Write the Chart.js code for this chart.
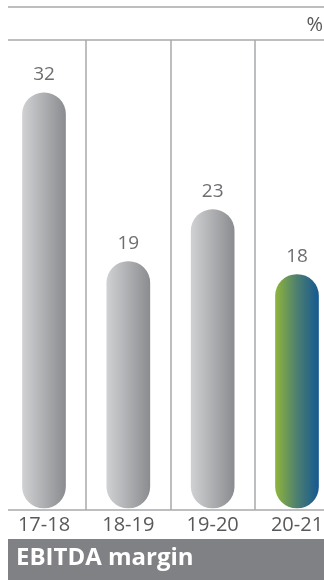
<!DOCTYPE html>
<html>
<head>
<meta charset="utf-8">
<script src="https://cdn.jsdelivr.net/npm/chart.js@4/dist/chart.umd.min.js"></script>
<style>
  html, body { margin: 0; padding: 0; background: #fff; }
  #wrap { width: 324px; height: 580px; }
</style>
</head>
<body>
<div id="wrap"><canvas id="margin"></canvas></div>
<script>
// EBITDA margin per financial year, in %
const years = ['17-18', '18-19', '19-20', '20-21'];
const margins = [32, 19, 23, 18];
const unitLabel = '%';
const titleText = 'EBITDA margin';

const lineColor = '#a7a9ac';
const textColor = '#58595b';

// horizontal gradient across one bar; last year gets the green-blue one
function barFill(ctx) {
  const chart = ctx.chart;
  if (!chart.chartArea) return '#b0b1b3';
  const x = chart.scales.x.getPixelForValue(ctx.dataIndex);
  const g = chart.ctx.createLinearGradient(x - 21, 0, x + 21, 0);
  if (ctx.dataIndex === years.length - 1) {
    g.addColorStop(0, '#8db33d');
    g.addColorStop(0.5, '#4d7f70');
    g.addColorStop(1, '#165a90');
  } else {
    g.addColorStop(0, '#cfd0d2');
    g.addColorStop(1, '#8c8d90');
  }
  return g;
}

// frame lines, column dividers, value labels and the title strip
const decor = {
  id: 'decor',
  beforeDatasetsDraw(chart) {
    const c = chart.ctx, a = chart.chartArea, xs = chart.scales.x;
    const base = a.bottom + 2;
    c.save();
    c.strokeStyle = lineColor;
    c.lineWidth = 1.5;
    c.beginPath();
    [7, 40, base].forEach(y => { c.moveTo(8, y); c.lineTo(324, y); });
    for (let i = 0; i < years.length - 1; i++) {
      const x = Math.round((xs.getPixelForValue(i) + xs.getPixelForValue(i + 1)) / 2);
      c.moveTo(x, 40); c.lineTo(x, base);
    }
    c.stroke();
    c.fillStyle = textColor;
    c.font = '20px "Open Sans"';
    c.textAlign = 'right';
    c.textBaseline = 'alphabetic';
    c.fillText(unitLabel, 323, 31);
    c.restore();
  },
  afterDatasetsDraw(chart) {
    const c = chart.ctx;
    const meta = chart.getDatasetMeta(0);
    c.save();
    c.fillStyle = '#6d6e71';
    c.font = '19px "Open Sans"';
    c.textAlign = 'center';
    c.textBaseline = 'alphabetic';
    meta.data.forEach((bar, i) => {
      c.fillText(String(margins[i]), bar.x, bar.y - 13);
    });
    // title strip
    c.fillStyle = '#808184';
    c.fillRect(8, 539, 316, 41);
    c.fillStyle = '#ffffff';
    c.font = 'bold 24px "Open Sans"';
    c.textAlign = 'left';
    c.fillText(titleText, 16, 565);
    c.restore();
  }
};

new Chart(document.getElementById('margin'), {
  type: 'bar',
  data: {
    labels: years,
    datasets: [{
      data: margins,
      backgroundColor: barFill,
      barThickness: 43,
      borderRadius: 22,
      borderSkipped: false,
      clip: false
    }]
  },
  options: {
    responsive: true,
    maintainAspectRatio: false,
    animation: false,
    layout: { padding: { left: 44, right: 27, top: 41, bottom: 0 } },
    plugins: { legend: { display: false }, tooltip: { enabled: false } },
    scales: {
      x: {
        offset: false,
        grid: { display: false, drawTicks: false },
        border: { display: false },
        ticks: {
          color: textColor,
          font: { family: 'Open Sans', size: 20 },
          padding: 5,
          maxRotation: 0,
          autoSkip: false
        },
        // fixed band under the bars for the year labels and title strip
        afterFit(scale) {
          scale.height = 72;
          scale.paddingLeft = 0;
          scale.paddingRight = 0;
        }
      },
      y: {
        display: false,
        min: 0,
        max: 36
      }
    }
  },
  plugins: [decor]
});
</script>
</body>
</html>
